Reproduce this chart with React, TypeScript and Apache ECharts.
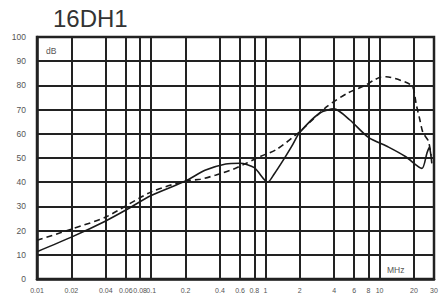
import React, { useEffect, useRef } from "react";
import * as echarts from "echarts";

const titleText = "16DH1";
const yUnit = "dB";
const xUnit = "MHz";

const xTicks = [0.01, 0.02, 0.04, 0.06, 0.08, 0.1, 0.2, 0.4, 0.6, 0.8, 1, 2, 4, 6, 8, 10, 20, 30];
const xTickLabels = ["0.01", "0.02", "0.04", "0.06", "0.08", "0.1", "0.2", "0.4", "0.6", "0.8", "1", "2", "4", "6", "8", "10", "20", "30"];

const solidFreq = [0.01, 0.02, 0.04, 0.06, 0.1, 0.2, 0.3, 0.45, 0.6, 0.8, 1.05, 1.2, 1.43, 1.7, 2, 3, 4, 5.5, 8, 12, 17, 23.5, 26, 27.3, 28.3, 28.7];
const solidVal = [11.3, 17.3, 24, 28.5, 34.5, 40.5, 45, 47.5, 47.8, 46, 40, 43.5, 49, 54.8, 60.5, 68.6, 70.3, 65.7, 58.5, 54.5, 50.5, 45.7, 52, 54.4, 50.5, 47.8];

const dashFreq = [0.01, 0.02, 0.04, 0.1, 0.2, 0.27, 0.37, 0.52, 0.68, 0.89, 1.26, 2, 3.45, 5.2, 7.5, 8.8, 10, 11.4, 16.6, 19.5, 21, 22.5, 24, 26.8, 28.3];
const dashVal = [16, 20.6, 25.6, 36, 40.5, 41.2, 43, 45.3, 47.8, 50.5, 53.6, 60.9, 71.2, 76.7, 80, 82, 83.3, 83.6, 81.5, 79.5, 72, 66, 60.5, 57, 51];

const labelFont = "'Liberation Sans Narrow', 'Liberation Sans', Arial, sans-serif";

export default function App() {
  const ref = useRef<HTMLDivElement>(null);
  useEffect(() => {
    if (!ref.current) return;
    const chart = echarts.init(ref.current, null, { renderer: "svg" });
    const fmt = (v: number) => {
      let best = 0;
      let bd = Infinity;
      xTicks.forEach((t, i) => {
        const d = Math.abs(Math.log10(t) - Math.log10(v));
        if (d < bd) { bd = d; best = i; }
      });
      return xTickLabels[best];
    };
    chart.setOption({
      animation: false,
      backgroundColor: "#ffffff",
      title: {
        text: titleText,
        left: 48,
        top: 1,
        textStyle: { fontSize: 24, fontWeight: "normal", color: "#333", fontFamily: "'Liberation Sans', Arial, sans-serif" },
      },
      grid: { left: 37, right: 12, top: 37, bottom: 20, show: true, borderColor: "#222", borderWidth: 2.5, backgroundColor: "transparent" },
      xAxis: {
        type: "log",
        logBase: 10,
        min: 0.01,
        max: 30,
        axisLine: { show: true, lineStyle: { color: "#222", width: 2.5 } },
        axisTick: { show: false, customValues: xTicks },
        axisLabel: { customValues: xTicks, formatter: fmt, color: "#555", fontSize: 7, margin: 8, fontFamily: labelFont, showMinLabel: true, showMaxLabel: true, hideOverlap: false },
        splitLine: { show: true, lineStyle: { color: "#222", width: 2 } },
        minorSplitLine: { show: false },
      },
      yAxis: {
        type: "value",
        min: 0,
        max: 100,
        interval: 10,
        axisLine: { show: true, lineStyle: { color: "#222", width: 2.5 } },
        axisTick: { show: false },
        axisLabel: { color: "#555", fontSize: 8.5, margin: 11, fontFamily: labelFont },
        splitLine: { show: true, lineStyle: { color: "#222", width: 2 } },
      },
      graphic: [
        { type: "text", left: 46, top: 46, style: { text: yUnit, fontSize: 8.5, fill: "#555", fontFamily: labelFont } },
        { type: "text", left: 387, top: 265, style: { text: xUnit, fontSize: 8.5, fill: "#555", fontFamily: labelFont } },
      ],
      series: [
        {
          type: "line",
          data: solidFreq.map((f, i) => [f, solidVal[i]]),
          showSymbol: false,
          smooth: 0.25,
          lineStyle: { color: "#1a1a1a", width: 1.6, type: "solid" },
        },
        {
          type: "line",
          data: dashFreq.map((f, i) => [f, dashVal[i]]),
          showSymbol: false,
          smooth: 0.25,
          lineStyle: { color: "#1a1a1a", width: 1.6, type: [6, 4] },
        },
      ],
    });
    return () => chart.dispose();
  }, []);
  return <div ref={ref} style={{ width: 446, height: 299, position: "absolute", left: 0, top: 0 }} />;
}
